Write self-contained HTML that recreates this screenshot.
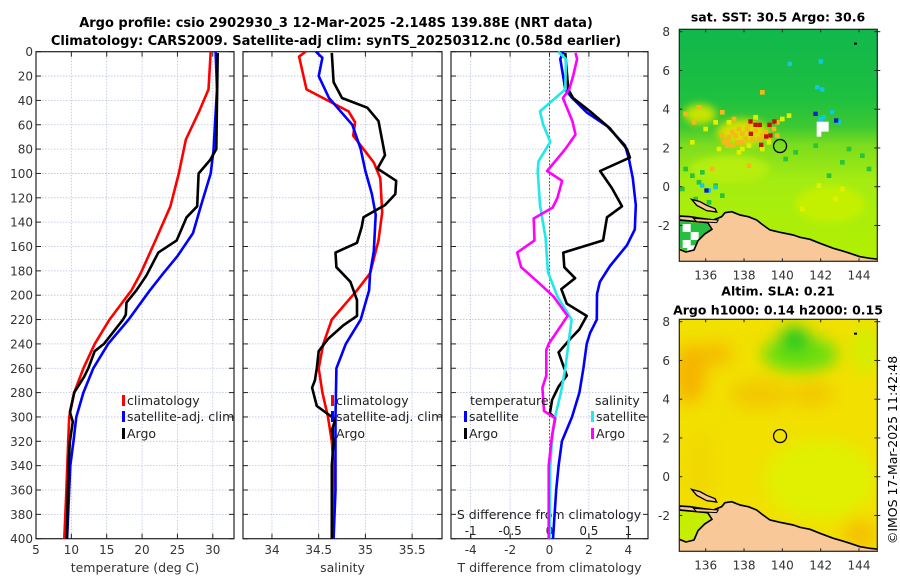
<!DOCTYPE html>
<html><head><meta charset="utf-8"><style>
html,body{margin:0;padding:0;background:#fff;}
svg{display:block;font-family:"DejaVu Sans","Liberation Sans",sans-serif;}
</style></head><body>
<svg id="chart" width="900" height="580" viewBox="0 0 900 580" xmlns="http://www.w3.org/2000/svg">
<defs>
  <linearGradient id="sstgrad" x1="0" y1="29" x2="0" y2="261" gradientUnits="userSpaceOnUse">
    <stop offset="0" stop-color="#10b84c"/>
    <stop offset="0.3" stop-color="#1ec040"/>
    <stop offset="0.42" stop-color="#3cc832"/>
    <stop offset="0.5" stop-color="#7cdc1e"/>
    <stop offset="0.65" stop-color="#a4ec12"/>
    <stop offset="1" stop-color="#b2f000"/>
  </linearGradient>
  <filter id="blur8"><feGaussianBlur stdDeviation="8"/></filter>
  <filter id="blur4"><feGaussianBlur stdDeviation="4"/></filter>
  <clipPath id="clip1"><rect x="679" y="29" width="198" height="232"/></clipPath>
  <clipPath id="clip2"><rect x="679" y="319" width="198" height="232"/></clipPath>
</defs>
<text x="336" y="27" text-anchor="middle" font-size="13" font-weight="bold">Argo profile: csio 2902930_3 12-Mar-2025 -2.148S 139.88E (NRT data)</text>
<text x="336" y="45" text-anchor="middle" font-size="13" font-weight="bold">Climatology: CARS2009. Satellite-adj clim: synTS_20250312.nc (0.58d earlier)</text>
<g id="plots"></g>
<g id="maps"></g>
<text transform="translate(897,450) rotate(-90)" text-anchor="middle" font-size="12.5">©IMOS 17-Mar-2025 11:42:48</text>
</svg>
<script>
// ---- data (depth in m) ----
const depthTicks = [0,20,40,60,80,100,120,140,160,180,200,220,240,260,280,300,320,340,360,380,400];
const tempTicks = [5,10,15,20,25,30];
const salTicks = [34,34.5,35,35.5];
const tdiffTicks = [-4,-2,0,2,4];
const sdiffTicks = [-1,-0.5,0,0.5,1];
const sdiffTickLabels = ["-1","-0.5","0","0.5","1"];

const tempClimDepth = [0,31,50,72,100,127,155,182,196,220,240,260,280,300,320,360,400];
const tempClim = [29.7,29.4,28.0,26.2,25.2,24.0,21.9,19.8,18.5,15.4,13.3,11.7,10.4,9.7,9.55,9.3,9.0];
const tempSatDepth = [0,31,81,100,127,149,168,182,196,220,240,260,280,300,320,340,360,400];
const tempSat = [30.4,30.6,30.1,29.7,28.3,27.2,25.0,23.0,21.1,18.1,15.2,13.1,11.7,10.7,10.3,9.85,9.7,9.4];
const tempArgoDepth = [1,80,89,100,127,136,155,165,184,196,206,216,220,240,246,260,267,280,296,304,320,340,400];
const tempArgo = [30.7,30.5,29.6,28.0,27.8,26.3,24.9,22.3,20.6,19.2,17.8,17.7,17.3,14.6,13.3,12.4,11.8,10.4,9.8,10.2,9.8,9.6,9.35];

const salClimDepth = [0,4,31,49,58,69,80,91,104,132,155,182,196,220,240,260,280,300,320,340,400];
const salClim = [34.36,34.29,34.37,34.82,34.89,34.87,34.98,35.09,35.16,35.18,35.14,35.05,34.91,34.64,34.55,34.50,34.54,34.60,34.64,34.66,34.64];
const salSatDepth = [0,5,20,38,60,80,98,117,134,164,182,196,220,240,260,300,360,400];
const salSat = [34.47,34.54,34.50,34.61,34.86,34.95,35.0,35.07,35.11,35.09,35.05,35.04,34.95,34.79,34.69,34.68,34.68,34.66];
const salArgoDepth = [1,25,38,46,57,85,96,106,117,126,136,144,157,165,177,189,204,217,225,236,246,260,270,276,291,301,304,311,320,340,400];
const salArgo = [34.64,34.66,34.75,35.02,35.14,35.21,35.13,35.33,35.32,35.21,34.98,34.96,34.91,34.68,34.69,34.84,34.91,34.91,34.76,34.60,34.50,34.48,34.46,34.43,34.48,34.66,34.67,34.64,34.66,34.64,34.64];

const dTsatDepth = [0,6,31,38,50,61,77,88,104,126,146,159,176,189,199,220,231,240,260,280,300,320,340,360,400];
const dTsat = [0.7,0.55,0.8,1.15,1.9,2.92,3.83,4.03,4.23,4.38,4.33,3.93,3.07,2.56,2.41,2.4,2.06,1.89,1.72,1.52,1.14,0.63,0.46,0.34,0.18];
const dTargoDepth = [1,31,38,49,63,80,87,98,112,127,136,155,165,177,186,195,207,217,228,236,247,266,275,286,297,301,316,336,400];
const dTargo = [0.8,0.95,1.2,2.06,3.07,3.93,4.08,2.57,3.17,3.68,2.92,2.72,0.7,0.75,1.3,0.6,0.88,1.89,1.52,1.05,0.46,0.88,0.46,0.13,0.02,0.29,0.13,0,-0.03];
const dSsatDepth = [0,6,31,49,60,74,90,98,126,153,181,201,220,240,260,280,300,320,340,400];
const dSsat = [0.11,0.21,0.2,-0.12,-0.08,0.01,-0.14,-0.15,-0.12,-0.05,-0.02,0.1,0.28,0.24,0.2,0.145,0.07,0.03,0.01,0];
const dSargoDepth = [1,6,20,31,38,57,68,80,98,106,120,128,137,155,165,177,189,201,217,240,245,266,276,295,301,316,340,400];
const dSargo = [0.33,0.35,0.3,0.25,0.17,0.29,0.33,0.2,-0.03,0.16,0.1,0.04,-0.2,-0.19,-0.41,-0.36,-0.15,0.05,0.23,-0.01,-0.04,-0.04,-0.09,-0.07,0.07,0.03,-0.01,-0.01];

const lonTicks = [136,138,140,142,144];
const latTicks = [-2,0,2,4,6,8];
const argoLon = 139.88, argoLat = 2.1;

// ---- helpers ----
const NS = "http://www.w3.org/2000/svg";
function mk(tag, parent, attrs){ const e=document.createElementNS(NS,tag); for(const k in attrs) e.setAttribute(k,attrs[k]); parent.appendChild(e); return e; }
const Y0=51.7, Y1=538.7;
function yD(d){ return Y0 + d*(Y1-Y0)/400; }
function lin(d0,d1,r0,r1){ return v => r0 + (v-d0)*(r1-r0)/(d1-d0); }
const xT = lin(5,33,36,234);
const xS = lin(33.69,35.82,243,442);
const xDT = lin(-5,5,451,648);
const xDS = lin(-1.25,1.25,451,648);
const plots = document.getElementById('plots');

function panel(name,x0,x1,xf,ticks,labels,leftLabels,xtitle){
  const g = mk('g',plots,{});
  
  
  depthTicks.forEach(d=>{ mk('line',g,{x1:x0,x2:x1,y1:yD(d),y2:yD(d),stroke:'#b8c2e0','stroke-width':0.8,'stroke-dasharray':'1.5,1.5'}); });
  ticks.forEach(t=>{ mk('line',g,{x1:xf(t),x2:xf(t),y1:Y0,y2:Y1,stroke:'#b8c2e0','stroke-width':0.8,'stroke-dasharray':'1.5,1.5'}); });
  mk('rect',g,{x:x0,y:Y0,width:x1-x0,height:Y1-Y0,fill:'none',stroke:'#222','stroke-width':1.2});
  depthTicks.forEach(d=>{
    mk('line',g,{x1:x0,x2:x0+5,y1:yD(d),y2:yD(d),stroke:'#222','stroke-width':1});
    mk('line',g,{x1:x1-5,x2:x1,y1:yD(d),y2:yD(d),stroke:'#222','stroke-width':1});
    if(leftLabels){ const t=mk('text',g,{x:x0-3,y:yD(d)+4.5,'text-anchor':'end','font-size':12,fill:'#333'}); t.textContent=d;
        }
  });
  ticks.forEach((t,i)=>{
    mk('line',g,{x1:xf(t),x2:xf(t),y1:Y0,y2:Y0+5,stroke:'#222','stroke-width':1});
    mk('line',g,{x1:xf(t),x2:xf(t),y1:Y1-5,y2:Y1,stroke:'#222','stroke-width':1});
    const tx=mk('text',g,{x:xf(t),y:554,'text-anchor':'middle','font-size':12,fill:'#333'}); tx.textContent=labels[i];
     
  });
  const tt=mk('text',g,{x:(x0+x1)/2,y:572,'text-anchor':'middle','font-size':12.5,fill:'#333'}); tt.textContent=xtitle;
   
  return g;
}
function series(g,depths,vals,xf,color,name){
  const d = vals.map((v,i)=>(i?'L':'M')+xf(v).toFixed(1)+','+yD(depths[i]).toFixed(1)).join('');
  const p = mk('path',g,{d:d,fill:'none',stroke:color,'stroke-width':2.6,'stroke-linejoin':'round'});
  
  
}
function legendEntry(g,x,y,color,label,name){
  mk('rect',g,{x:x,y:y-9,width:3,height:11,fill:color});
  const t=mk('text',g,{x:x+5,y:y+1,'font-size':12.5,fill:'#222'}); t.textContent=label;
  
  
}

// Panel 1: temperature
const g1 = panel('temperature-panel',36,234,xT,tempTicks,tempTicks.map(String),true,'temperature (deg C)');
series(g1,tempClimDepth,tempClim,xT,'#ff0000','temp-climatology-line');
series(g1,tempSatDepth,tempSat,xT,'#0000ff','temp-satellite-line');
series(g1,tempArgoDepth,tempArgo,xT,'#000000','temp-argo-line');
legendEntry(g1,122,404,'#ff0000','climatology','legend-climatology');
legendEntry(g1,122,420,'#0000ff','satellite-adj. clim','legend-satellite-adj');
legendEntry(g1,122,437,'#000000','Argo','legend-argo');

// Panel 2: salinity
const g2 = panel('salinity-panel',243,442,xS,salTicks,['34','34.5','35','35.5'],false,'salinity');
series(g2,salClimDepth,salClim,xS,'#ff0000','sal-climatology-line');
series(g2,salSatDepth,salSat,xS,'#0000ff','sal-satellite-line');
series(g2,salArgoDepth,salArgo,xS,'#000000','sal-argo-line');
legendEntry(g2,331,404,'#ff0000','climatology','legend-climatology-2');
legendEntry(g2,331,420,'#0000ff','satellite-adj. clim','legend-satellite-adj-2');
legendEntry(g2,331,437,'#000000','Argo','legend-argo-2');

// Panel 3: differences
const g3 = panel('difference-panel',451,648,xDT,tdiffTicks,tdiffTicks.map(String),false,'T difference from climatology');
mk('line',g3,{x1:xDT(0),x2:xDT(0),y1:Y0,y2:Y1,stroke:'#445522','stroke-width':1,'stroke-dasharray':'1.5,2'});
sdiffTicks.forEach((t,i)=>{
  mk('line',g3,{x1:xDS(t),x2:xDS(t),y1:Y1-5,y2:Y1,stroke:'#222','stroke-width':1});
  const tx=mk('text',g3,{x:xDS(t),y:535,'text-anchor':'middle','font-size':12,fill:'#222'}); tx.textContent=sdiffTickLabels[i];
   
});
const st=mk('text',g3,{x:549,y:519,'text-anchor':'middle','font-size':12.5,fill:'#222'}); st.textContent='S difference from climatology';
 
series(g3,dTsatDepth,dTsat,xDT,'#0000ff','tdiff-satellite-line');
series(g3,dTargoDepth,dTargo,xDT,'#000000','tdiff-argo-line');
series(g3,dSsatDepth,dSsat,xDS,'#22e8e8','sdiff-satellite-line');
series(g3,dSargoDepth,dSargo,xDS,'#ff00ff','sdiff-argo-line');
const lt=mk('text',g3,{x:470,y:405,'font-size':12.5,fill:'#222'}); lt.textContent='temperature';
 
const ls=mk('text',g3,{x:595,y:405,'font-size':12.5,fill:'#222'}); ls.textContent='salinity';
 
legendEntry(g3,464,420,'#0000ff','satellite','legend-t-satellite');
legendEntry(g3,464,437,'#000000','Argo','legend-t-argo');
legendEntry(g3,591,420,'#22e8e8','satellite','legend-s-satellite');
legendEntry(g3,591,437,'#ff00ff','Argo','legend-s-argo');

// ---- maps ----
const maps = document.getElementById('maps');
const MX0=679.3, MX1=877.3;
const lonX = lin(136,144,705.7,859);
function drawMap(name,top,kind,title1,title2){
  const g = mk('g',maps,{});
  
  
  const latY = lin(0,8,top+157.4,top+2.4);
  const c = mk('g',g,{'clip-path':'url(#clip'+(kind==='sst'?1:2)+')'});
  if(kind==='sst'){
    mk('rect',c,{x:MX0,y:top,width:198,height:232,fill:'url(#sstgrad)'});
    const b = mk('g',c,{filter:'url(#blur4)'});
    mk('ellipse',b,{cx:743,cy:top+103,rx:26,ry:13,fill:'#d8e000'});
    mk('ellipse',b,{cx:700,cy:top+85,rx:16,ry:10,fill:'#c8e400'});
    mk('ellipse',b,{cx:730,cy:top+140,rx:40,ry:14,fill:'#b6ee08'});
    mk('ellipse',b,{cx:830,cy:top+175,rx:35,ry:18,fill:'#c4f000'});
  } else {
    mk('rect',c,{x:MX0,y:top,width:198,height:232,fill:'#f2e000'});
    const b = mk('g',c,{filter:'url(#blur8)'});
    mk('ellipse',b,{cx:690,cy:top+55,rx:16,ry:30,fill:'#f6b400'});
    mk('ellipse',b,{cx:715,cy:top+35,rx:18,ry:12,fill:'#f5bc00'});
    mk('ellipse',b,{cx:760,cy:top+75,rx:30,ry:14,fill:'#f2c800'});
    mk('ellipse',b,{cx:812,cy:top+75,rx:22,ry:12,fill:'#f2c800'});
    mk('ellipse',b,{cx:800,cy:top+35,rx:38,ry:18,fill:'#6ade10'});
    mk('ellipse',b,{cx:795,cy:top+20,rx:15,ry:12,fill:'#10c820'});
    mk('ellipse',b,{cx:865,cy:top+30,rx:14,ry:25,fill:'#d2ee00'});
    mk('ellipse',b,{cx:820,cy:top+160,rx:55,ry:40,fill:'#e0f000'});
    mk('ellipse',b,{cx:860,cy:top+215,rx:18,ry:14,fill:'#f5c000'});
    mk('ellipse',b,{cx:700,cy:top+150,rx:15,ry:40,fill:'#f0d800'});
  }
  const z = mk('g',c,{transform:'translate(660,'+(top-29.3)+') scale(0.33333)'});
  if(kind==='sst'){
    const orange=[[180,400],[195,415],[210,390],[225,420],[195,430],[240,395],[250,410],[230,380],[215,350],[260,365],[280,385],[290,410],[310,390],[335,380],[345,400],[180,330],[110,315],[150,500],[260,490],[70,335],[95,360],[300,270],[345,360],[200,405],[220,400],[185,420],[210,430],[240,420],[255,380],[300,400],[320,410],[270,410]];
    orange.forEach(p=>mk('rect',z,{x:p[0],y:p[1],width:14,height:14,fill:'#f6b818'}));
    const yel=[[200,360],[170,440],[240,440],[260,430],[130,380],[90,420],[320,420],[360,350],[380,340],[540,560],[520,590],[470,550],[420,620],[160,360],[280,345],[300,440],[230,450]];
    yel.forEach(p=>mk('rect',z,{x:p[0],y:p[1],width:14,height:14,fill:'#e2f000'}));
    const red=[[265,358],[280,368],[293,368],[322,368],[337,358],[312,403],[325,400],[297,428],[266,395]];
    red.forEach(p=>mk('rect',z,{x:p[0],y:p[1],width:13,height:13,fill:'#c81000'}));
    const grn=[[70,500],[90,520],[110,540],[120,510],[160,550],[180,580],[60,560],[100,590],[140,600],[560,440],[600,460],[620,500],[540,480],[500,520],[460,430],[400,450],[370,470]];
    grn.forEach(p=>mk('rect',z,{x:p[0],y:p[1],width:14,height:14,fill:'#28c43c'}));
    const cyan=[[475,350],[485,345],[510,330],[465,255],[480,262],[476,178],[383,185],[140,565],[160,555],[120,550],[530,360]];
    cyan.forEach(p=>mk('rect',z,{x:p[0],y:p[1],width:13,height:13,fill:'#12c8e0'}));
    const blue=[[460,335],[522,355],[133,565]];
    blue.forEach(p=>mk('rect',z,{x:p[0],y:p[1],width:13,height:13,fill:'#0020c0'}));
    mk('rect',z,{x:470,y:365,width:36,height:30,fill:'#fff'});
    mk('rect',z,{x:470,y:395,width:14,height:15,fill:'#fff'});
  }
  // bay and land
  mk('path',z,{d:'M58,662 L100,668 L140,670 L152,688 L132,700 L112,720 L100,748 L78,752 L58,742 Z',fill:kind==='sst'?'#24c040':'#c6ee00'});
  if(kind==='sst'){ [[68,672],[92,696],[68,720],[82,736]].forEach(p=>mk('rect',z,{x:p[0],y:p[1],width:24,height:24,fill:'#fff'})); }
  mk('path',z,{d:'M58,648 L90,650 L130,656 L160,660 L185,650 L195,638 L215,635 L240,645 L265,650 L290,660 L305,672 L330,690 L360,697 L400,705 L420,712 L450,718 L480,730 L520,745 L545,752 L570,760 L600,770 L630,775 L660,778 L660,800 L40,800 L40,760 L58,748 L78,756 L102,750 L114,722 L134,702 L156,688 L143,668 L100,664 L58,660 Z',fill:'#f8c898',stroke:'#000','stroke-width':5,'stroke-linejoin':'round'});
  mk('path',z,{d:'M95,598 L120,605 L140,616 L165,626 L170,636 L140,632 L110,616 Z',fill:'#f8c898',stroke:'#000','stroke-width':4});
  mk('path',z,{d:'M100,655 L175,660 L170,668 L110,665 Z',fill:'#f8c898',stroke:'#000','stroke-width':3});
  mk('rect',z,{x:582,y:128,width:9,height:6,fill:'#000'});
  // frame, ticks, labels
  mk('rect',g,{x:MX0,y:top,width:198,height:232,fill:'none',stroke:'#222','stroke-width':1.2});
  const circ = mk('circle',g,{cx:lonX(argoLon),cy:latY(argoLat),r:6.5,fill:'none',stroke:'#000','stroke-width':1.3});
  
  
  lonTicks.forEach(l=>{
    mk('line',g,{x1:lonX(l),x2:lonX(l),y1:top,y2:top+3,stroke:'#222'});
    mk('line',g,{x1:lonX(l),x2:lonX(l),y1:top+229,y2:top+232,stroke:'#222'});
    const t=mk('text',g,{x:lonX(l),y:top+250,'text-anchor':'middle','font-size':12,fill:'#333'}); t.textContent=l;
     
  });
  latTicks.forEach(l=>{
    mk('line',g,{x1:MX0,x2:MX0+3,y1:latY(l),y2:latY(l),stroke:'#222'});
    mk('line',g,{x1:MX1-3,x2:MX1+3,y1:latY(l),y2:latY(l),stroke:'#222'});
    const t=mk('text',g,{x:670,y:latY(l)+4.5,'text-anchor':'end','font-size':12,fill:'#333'}); t.textContent=l;
     
  });
  const t1=mk('text',g,{x:778,y:title2?top-24:top-8,'text-anchor':'middle','font-size':12.5,'font-weight':'bold'}); t1.textContent=title1;
   
  if(title2){ const t2=mk('text',g,{x:778,y:top-5,'text-anchor':'middle','font-size':12.5,'font-weight':'bold'}); t2.textContent=title2;
      }
}
drawMap('sst-map',29.3,'sst','sat. SST: 30.5 Argo: 30.6',null);
drawMap('sla-map',319.3,'sla','Altim. SLA: 0.21','Argo h1000: 0.14 h2000: 0.15');
</script>
</body></html>
